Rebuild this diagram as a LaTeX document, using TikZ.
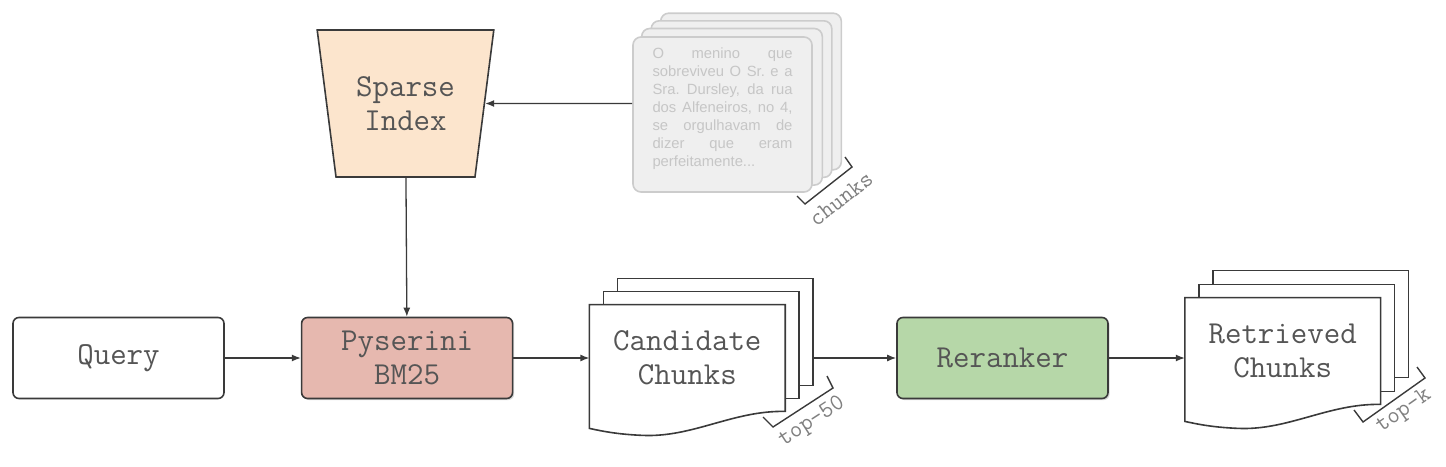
\documentclass[tikz,border=0pt]{standalone}
\usepackage{fontspec}
\setmainfont{Liberation Sans}
\setsansfont{Liberation Sans}
\usetikzlibrary{positioning,arrows.meta,shadows,shapes.geometric,backgrounds}

\definecolor{inkgray}{HTML}{555555}
\definecolor{linegray}{HTML}{3A3A3A}
\definecolor{berry}{HTML}{E6B8AF}
\definecolor{mint}{HTML}{B6D7A8}
\definecolor{peach}{HTML}{FCE5CD}
\definecolor{cardfill}{HTML}{EFEFEF}
\definecolor{carddraw}{HTML}{CCCCCC}
\definecolor{cardtext}{HTML}{C6C6C6}
\definecolor{taggray}{HTML}{808080}

% one justified line of the chunk text
\newcommand{\jline}[1]{\makebox[70pt][s]{#1}}
% wavy front sheet of a document stack
\newcommand{\docfront}[1]{%
  \begin{scope}[shift={(#1.south east)}]
    \draw[sheet] (#1.south west) -- (#1.north west) -- (#1.north east) -- (0,0)
      .. controls (-52,-1) and (-92,26) .. (-142,24)
      .. controls (-167,23) and (-182,20) .. (#1.south west |- 0,17) -- cycle;
  \end{scope}}
% plain sheet behind it
\newcommand{\docback}[3]{%
  \draw[sheet] ([shift={(#2,#3)}]#1.south west) rectangle ([shift={(#2,#3)}]#1.north east);}

\begin{document}
\begin{tikzpicture}[x=0.5pt, y=-0.5pt,
    every node/.style={font=\ttfamily\fontsize{16}{17}\selectfont, text=inkgray},
    box/.style={draw=linegray, line width=0.8pt, rounded corners=3pt,
                minimum width=105.5pt, minimum height=40.5pt, align=center, inner sep=0pt},
    shd/.style={drop shadow={shadow xshift=0.8pt, shadow yshift=-0.8pt, opacity=0.3}},
    qbox/.style={box, fill=white},
    bmbox/.style={box, shd, fill=berry},
    rankbox/.style={box, shd, fill=mint},
    idxbox/.style={trapezium, trapezium angle=77.3, shape border rotate=180,
                   trapezium stretches=true, minimum width=88.5pt, minimum height=73.5pt,
                   draw=linegray, line width=0.8pt, fill=peach, align=center},
    docnode/.style={minimum width=97.5pt, minimum height=53pt, inner sep=0pt, align=center},
    sheet/.style={draw=linegray, line width=0.8pt, fill=white},
    chunkcard/.style={draw=carddraw, line width=0.8pt, fill=cardfill, rounded corners=4pt,
                      minimum width=89.5pt, minimum height=77.5pt},
    cardtxt/.style={font=\sffamily\fontsize{7.4}{9}\selectfont\frenchspacing, text=cardtext,
                    align=left, inner sep=0pt},
    arr/.style={-{Latex[length=4.5pt,width=3.5pt]}, line width=0.65pt, draw=linegray},
    brk/.style={line width=0.7pt, draw=linegray},
    tag/.style={font=\ttfamily\fontsize{12}{13}\selectfont, text=taggray, inner sep=0pt}
  ]
  \useasboundingbox (0,0) rectangle (1446,466);

  \node[qbox] (q) at (118.5,358) {Query};
  \node[bmbox, right=38pt of q] (pys) {Pyserini\\BM25};
  \node[docnode, right=38pt of pys] (cand) {Candidate\\Chunks};
  \node[rankbox, right=55.5pt of cand] (rer) {Reranker};
  \node[docnode, right=38pt of rer, yshift=3.5pt] (ret) {Retrieved\\Chunks};
  \node[idxbox] (idx) at (405.5,103.5) {Sparse\\Index};
  \node[chunkcard] (chunk) at (722.5,114.5) {};
  \node[cardtxt] (chunktxt) at ([yshift=2.75pt]chunk.center)
    {\jline{O menino que}\\\jline{sobreviveu O Sr. e a}\\\jline{Sra. Dursley, da rua}\\
     \jline{dos Alfeneiros, no 4,}\\\jline{se orgulhavam de}\\\jline{dizer que eram}\\
     \makebox[70pt][l]{perfeitamente...}};

  \begin{scope}[on background layer]
    \docback{cand}{28}{-26} \docback{cand}{14}{-13} \docfront{cand}
    \docback{ret}{28}{-27} \docback{ret}{14}{-13} \docfront{ret}
    \foreach \dx/\dy in {28.5/-23, 19/-15.4, 9.5/-7.7}
      \draw[chunkcard] ([shift={(\dx,\dy)}]chunk.south west) rectangle ([shift={(\dx,\dy)}]chunk.north east);
  \end{scope}

  \draw[arr] (q) -- (pys);
  \draw[arr] (pys) -- (cand);
  \draw[arr] ([xshift=14pt]cand.east) -- (rer);
  \draw[arr] (rer) -- (rer -| ret.west);
  \draw[arr] (idx) -- (pys);
  \draw[arr] (chunk.west |- idx.center) -- (idx);

  % brackets with their labels
  \draw[brk] (845,157) -- (852,167) -- (805,204) -- (797,196);
  \node[tag, rotate=38] (chunkstag) at (841,199) {chunks};
  \draw[brk] (827,376) -- (833,388) -- (773,427) -- (763,417);
  \node[tag, rotate=33] (candtag) at (812,422) {top-50};
  \draw[brk] (1417,367) -- (1425,378) -- (1363,422) -- (1354,410);
  \node[tag, rotate=35] (rettag) at (1404,411) {top-k};
\end{tikzpicture}
\end{document}
